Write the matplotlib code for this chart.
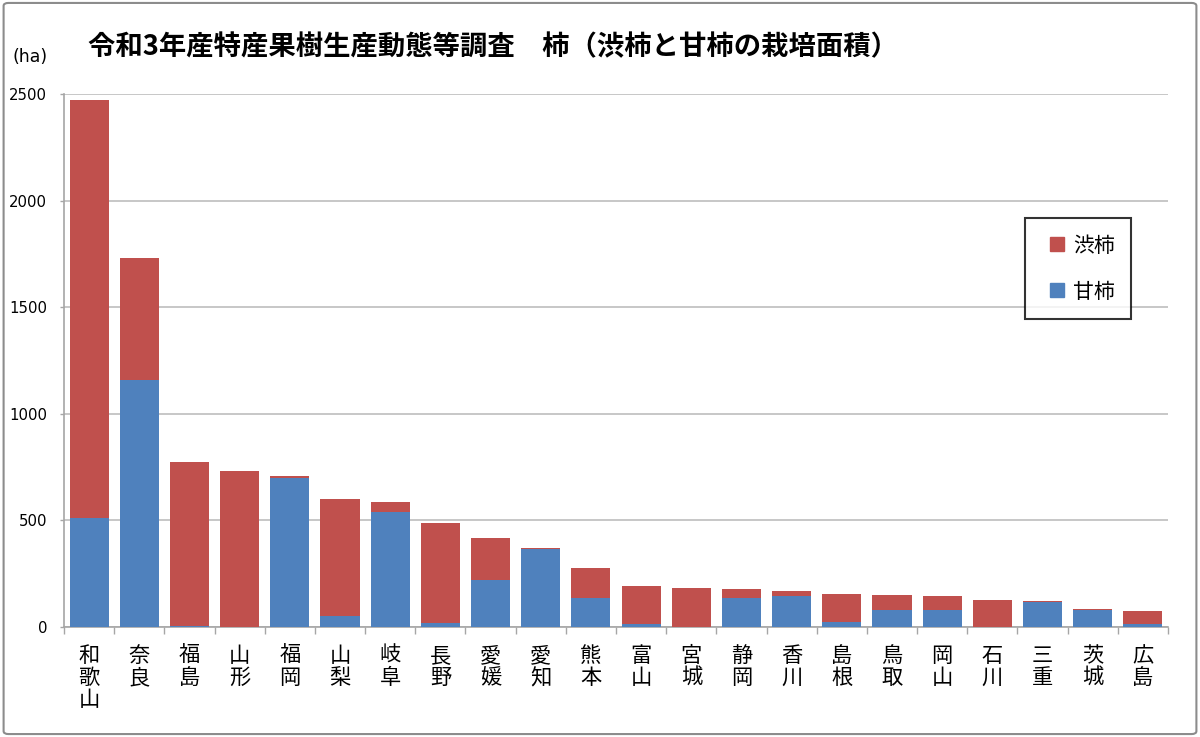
import matplotlib
matplotlib.use('Agg')
import matplotlib.pyplot as plt
import numpy as np
from matplotlib.lines import Line2D
from matplotlib.patches import FancyBboxPatch

plt.rcParams['font.family'] = ['Noto Sans CJK JP', 'DejaVu Sans']

# prefectures, left to right
prefectures = ['和歌山', '奈良', '福島', '山形', '福岡', '山梨', '岐阜', '長野',
               '愛媛', '愛知', '熊本', '富山', '宮城', '静岡', '香川', '島根',
               '鳥取', '岡山', '石川', '三重', '茨城', '広島']
# area in ha
amagaki = [512, 1158, 7, 0, 700, 52, 539, 20, 220, 366, 137, 13, 2, 134,
           145, 22, 80, 82, 1, 118, 82, 13]
shibugaki = [1959, 574, 768, 732, 6, 550, 45, 467, 197, 3, 141, 179, 180,
             44, 22, 132, 68, 63, 125, 2, 3, 64]

title = '令和3年産特産果樹生産動態等調査　柿（渋柿と甘柿の栽培面積）'
red = '#C0504D'
blue = '#4F81BD'

fig = plt.figure(figsize=(12, 7.37), dpi=100)
ax = fig.add_axes([64 / 1200, 1 - 627 / 737, (1168 - 64) / 1200, (627 - 94) / 737])

x = np.arange(len(prefectures))
ax.bar(x, amagaki, width=0.78, color=blue, zorder=3)
ax.bar(x, shibugaki, width=0.78, bottom=amagaki, color=red, zorder=3)

ax.set_xlim(-0.5, len(prefectures) - 0.5)
ax.set_ylim(0, 2500)
ax.set_yticks([0, 500, 1000, 1500, 2000, 2500])
ax.yaxis.grid(True, color='#BDBDBD', linewidth=1.2, zorder=0)

for s in ['top', 'right']:
    ax.spines[s].set_visible(False)
for s in ['left', 'bottom']:
    ax.spines[s].set_color('#A6A6A6')
    ax.spines[s].set_linewidth(1.2)

ax.tick_params(axis='y', length=3, width=1.0, color='#A6A6A6', pad=9,
               labelsize=10.7)
for lab in ax.get_yticklabels():
    lab.set_fontfamily('DejaVu Sans')

ax.set_xticks(x)
ax.set_xticklabels(['\n'.join(p) for p in prefectures], fontsize=15.3,
                   linespacing=1.0)
ax.tick_params(axis='x', which='major', length=0, pad=13)
ax.set_xticks(np.arange(-0.5, len(prefectures)), minor=True)
ax.tick_params(axis='x', which='minor', length=5, width=1.0, color='#A6A6A6')

handles = [Line2D([], [], linestyle='none', marker='s', markersize=9.5,
                  color=red, label='渋柿'),
           Line2D([], [], linestyle='none', marker='s', markersize=9.5,
                  color=blue, label='甘柿')]
leg = ax.legend(handles=handles, loc='upper left',
                bbox_to_anchor=((1025 - 64) / 1104, (627 - 218) / 533),
                fontsize=15, frameon=True, fancybox=False, edgecolor='black',
                borderpad=0.8, labelspacing=1.15, handlelength=1.5,
                handletextpad=0.0, borderaxespad=0)
leg.get_frame().set_linewidth(1.5)

fig.text(88 / 1200, 1 - 47 / 737, title, fontsize=19.7, fontweight='bold',
         ha='left', va='center')
fig.text(13 / 1200, 1 - 57 / 737, '(ha)', fontsize=12.5, ha='left',
         va='center', family='DejaVu Sans')

border = FancyBboxPatch((0.003, 0.004), 0.994, 0.992,
                        boxstyle='round,pad=0,rounding_size=0.004',
                        transform=fig.transFigure, fill=False,
                        edgecolor='#8C8C8C', linewidth=1.5)
fig.patches.append(border)

fig.savefig('out.png', dpi=100)
